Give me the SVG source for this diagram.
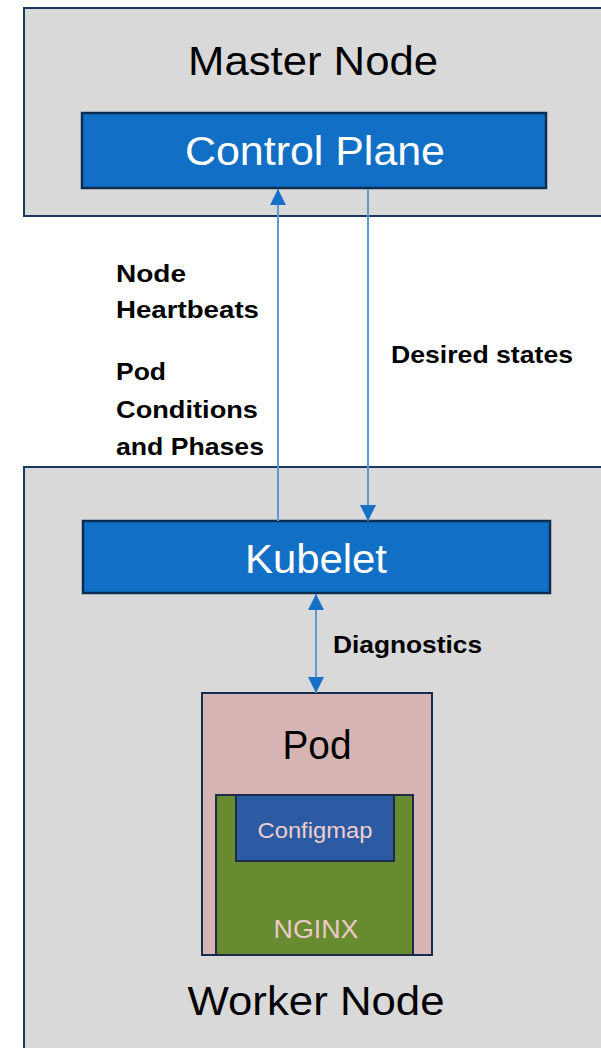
<svg xmlns="http://www.w3.org/2000/svg" width="601" height="1048" viewBox="0 0 601 1048">
<style>
.outer{fill:#d9d9d9;stroke:#1c3a5e;stroke-width:2}
.blue{fill:#1170c6;stroke:#0c2d52;stroke-width:2.5}
.big{font-family:"Liberation Sans",Arial,sans-serif;font-size:41px;text-anchor:middle}
.lbl{font-family:"Liberation Sans",Arial,sans-serif;font-size:24px;font-weight:bold;fill:#000}
.conn{stroke:#5b9bd5;stroke-width:2;fill:none}
</style>
<defs>
<marker id="ah" markerUnits="userSpaceOnUse" markerWidth="16" markerHeight="16" viewBox="0 0 16 16" refX="16" refY="8" orient="auto-start-reverse">
<path d="M0,0 L16,8 L0,16 z" fill="#1570c8"/>
</marker>
</defs>
<g id="master-node">
<rect class="outer" x="24" y="8" width="590" height="208"/>
<text class="big" x="313" y="75" fill="#000" textLength="250" lengthAdjust="spacingAndGlyphs">Master Node</text>
</g>
<g id="control-plane">
<rect class="blue" x="82" y="113" width="464" height="75"/>
<text class="big" x="315" y="165" fill="#fff" textLength="260" lengthAdjust="spacingAndGlyphs">Control Plane</text>
</g>
<g id="worker-node">
<rect class="outer" x="24" y="467" width="590" height="600"/>
<text class="big" x="316" y="1015" fill="#000" textLength="257" lengthAdjust="spacingAndGlyphs">Worker Node</text>
</g>
<g id="kubelet">
<rect class="blue" x="83" y="521" width="467" height="72"/>
<text class="big" x="316" y="573" fill="#fff" textLength="142" lengthAdjust="spacingAndGlyphs">Kubelet</text>
</g>
<g id="pod">
<rect x="202" y="693" width="230" height="262" fill="#d5b4b3" stroke="#0f2d4f" stroke-width="2"/>
<text class="big" x="317" y="759" fill="#000" textLength="69" lengthAdjust="spacingAndGlyphs">Pod</text>
</g>
<g id="nginx">
<rect x="216" y="795" width="197" height="160" fill="#678b2f" stroke="#1e2a4a" stroke-width="2"/>
<text x="316" y="938" font-family="'Liberation Sans',Arial,sans-serif" font-size="26" text-anchor="middle" fill="#ecc9c9" textLength="85" lengthAdjust="spacingAndGlyphs">NGINX</text>
</g>
<g id="configmap">
<rect x="236" y="795" width="158" height="66" fill="#2c5aa3" stroke="#1e2a4a" stroke-width="2"/>
<text x="315" y="838" font-family="'Liberation Sans',Arial,sans-serif" font-size="22" text-anchor="middle" fill="#efcfcf" textLength="115" lengthAdjust="spacingAndGlyphs">Configmap</text>
</g>
<g id="connectors">
<line class="conn" x1="278" y1="521" x2="278" y2="189" marker-end="url(#ah)"/>
<line class="conn" x1="368" y1="189" x2="368" y2="521" marker-end="url(#ah)"/>
<line class="conn" x1="316" y1="594" x2="316" y2="693" marker-start="url(#ah)" marker-end="url(#ah)"/>
</g>
<g id="labels">
<text class="lbl" x="116" y="282" textLength="70" lengthAdjust="spacingAndGlyphs">Node</text>
<text class="lbl" x="116" y="318" textLength="143" lengthAdjust="spacingAndGlyphs">Heartbeats</text>
<text class="lbl" x="116" y="380" textLength="50" lengthAdjust="spacingAndGlyphs">Pod</text>
<text class="lbl" x="116" y="418" textLength="142" lengthAdjust="spacingAndGlyphs">Conditions</text>
<text class="lbl" x="116" y="455" textLength="148" lengthAdjust="spacingAndGlyphs">and Phases</text>
<text class="lbl" x="391" y="363" textLength="182" lengthAdjust="spacingAndGlyphs">Desired states</text>
<text class="lbl" x="333" y="653" textLength="149" lengthAdjust="spacingAndGlyphs">Diagnostics</text>
</g>
</svg>
